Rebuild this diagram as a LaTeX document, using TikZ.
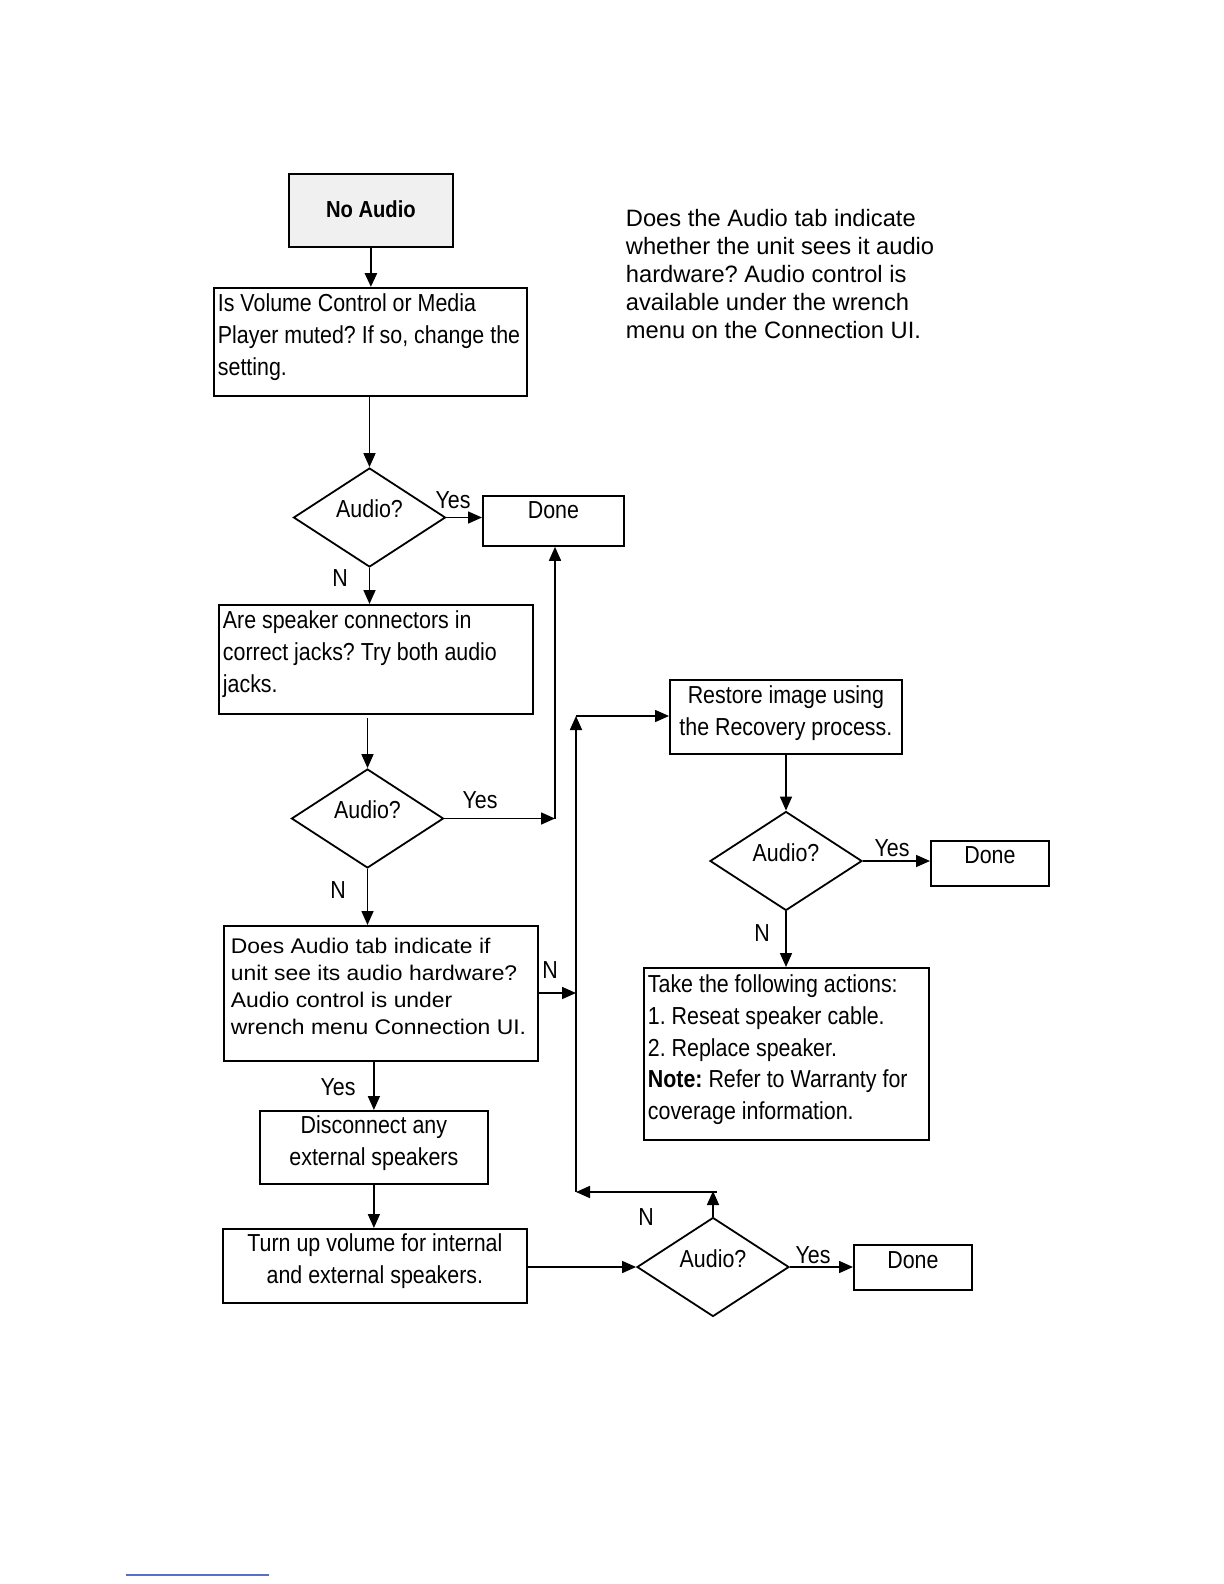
\documentclass[tikz,border=0pt]{standalone}
\usepackage{fontspec}
\setmainfont{Liberation Sans}
\newfontfamily\nfont[FakeStretch=0.87]{Liberation Sans}
\newfontfamily\wfont[FakeStretch=1.08]{Liberation Sans}
\usetikzlibrary{arrows.meta,shapes.geometric}
\definecolor{footblue}{RGB}{90,110,200}
\frenchspacing
\newcommand\nsz{\nfont\fontsize{12.3}{15.8}\selectfont\frenchspacing}
\newcommand\bxl[4]{\parbox[c][#2][t]{#1}{\raggedright\rule{0pt}{#3}#4}}
\newcommand\bxc[4]{\parbox[c][#2][t]{#1}{\centering\rule{0pt}{#3}#4}}
\tikzset{
  box/.style={draw, line width=0.9pt, inner ysep=0pt, inner xsep=0pt, anchor=north west, font=\nsz},
  dia/.style={draw, diamond, aspect=1.53, line width=0.9pt, inner sep=0pt,
     minimum width=76pt, minimum height=49.5pt, font=\nsz},
  arr/.style={line width=0.8pt, -{Triangle[length=7pt,width=6pt]}},
  lbl/.style={font=\nsz, inner sep=0pt}
}
\begin{document}
\begin{tikzpicture}[x=0.5pt,y=-0.5pt]
\useasboundingbox (0,0) rectangle (1224,1584);

% top box
\node[box, fill=gray!12] (na) at (288,173)
  {\bxc{82pt}{36.5pt}{22pt}{\fontsize{11.6}{13}\selectfont\bfseries No Audio}};

\node[box, inner xsep=2pt] (b1) at (213,287)
  {\bxl{152.5pt}{54pt}{12pt}{\mbox{Is Volume Control or Media}\\\mbox{Player muted? If so, change the}\\\mbox{setting.}}};

\node[dia] (d1) at (369.5,517.5) {\smash{Audio?}};
\node[box] (done1) at (482,495) {\bxc{70.5pt}{25pt}{11.5pt}{Done}};

\node[box, inner xsep=2pt] (b2) at (218,604)
  {\bxl{153pt}{54.5pt}{12pt}{\mbox{Are speaker connectors in}\\\mbox{correct jacks? Try both audio}\\\mbox{jacks.}}};

\node[dia] (d2) at (367.5,818.5) {\smash{Audio?}};

\node[box, inner xsep=3.5pt] (b3) at (223,925)
  {\bxl{150pt}{67.5pt}{14pt}{\wfont\fontsize{10.6}{13.5}\selectfont\mbox{Does Audio tab indicate if}\\\mbox{unit see its audio hardware?}\\\mbox{Audio control is under}\\\mbox{wrench menu Connection UI.}}};

\node[box] (b4) at (259,1110)
  {\bxc{114pt}{36.5pt}{11.5pt}{\fontsize{12.3}{16}\selectfont Disconnect any\\external speakers}};

\node[box] (b5) at (222,1228)
  {\bxc{152pt}{37pt}{11.5pt}{\fontsize{12.3}{16}\selectfont Turn up volume for internal\\and external speakers.}};

\node[dia] (d3) at (713,1267) {\smash{Audio?}};
\node[box] (done3) at (853,1244) {\bxc{59pt}{22.5pt}{12pt}{Done}};

\node[box] (rs) at (669,679)
  {\bxc{116pt}{37pt}{12pt}{\fontsize{12.3}{16}\selectfont Restore image using\\the Recovery process.}};

\node[dia] (d4) at (786,861) {\smash{Audio?}};
\node[box] (done4) at (930,840) {\bxc{59pt}{22.5pt}{11.5pt}{Done}};

\node[box, inner xsep=2pt] (b6) at (643,967)
  {\bxl{138.5pt}{86pt}{12.5pt}{\mbox{Take the following actions:}\\\mbox{1. Reseat speaker cable.}\\\mbox{2. Replace speaker.}\\\mbox{\textbf{Note:} Refer to Warranty for}\\\mbox{coverage information.}}};

% note text
\node[anchor=base west, inner sep=0pt] (note) at (625.5,226)
  {\parbox[t]{180pt}{\fontsize{11.85}{14.1}\selectfont Does the Audio tab indicate\\whether the unit sees it audio\\hardware? Audio control is\\available under the wrench\\menu on the Connection UI.}};

% coordinates for loop
\coordinate (j1) at (555,818.5);
\coordinate (c1) at (713,1191);
\coordinate (c2) at (576,1192);
\coordinate (c3) at (576,716);
\coordinate (j2) at (576,993);

% connectors
\draw[arr, line width=1.4pt] (na.south) -- (na.south |- b1.north);
\draw[arr] (d1.north |- b1.south) -- (d1.north);
\draw[arr] (d1.east) -- (d1.east -| done1.west);
\draw[arr] (d1.south) -- (d1.south |- b2.north);
\draw[arr] ([yshift=-1.5pt]d2.north |- b2.south) -- (d2.north);
\draw[arr] (d2.east) -- (j1);
\draw[arr] (j1) -- (j1 |- done1.south);
\draw[arr] (d2.south) -- (d2.south |- b3.north);
\draw[arr] (b3.east |- j2) -- (j2);
\draw[arr] (b4.north |- b3.south) -- (b4.north);
\draw[arr] (b4.south) -- (b4.south |- b5.north);
\draw[arr] (b5.east |- d3.west) -- (d3.west);
\draw[arr] (d3.east) -- (d3.east -| done3.west);
\draw[arr] (d3.north) -- (c1);
\draw[arr] ([xshift=2pt]c1 |- c2) -- (c2);
\draw[arr] (c2) -- (c3);
\draw[arr] (c3) -- (c3 -| rs.west);
\draw[arr] (rs.south -| d4.north) -- (d4.north);
\draw[arr] (d4.east) -- (d4.east -| done4.west);
\draw[arr] (d4.south) -- (d4.south |- b6.north);

% labels
\node[lbl] (y1) at (453,500) {Yes};
\node[lbl] (n1) at (340,578) {N};
\node[lbl] (y2) at (480,800) {Yes};
\node[lbl] (n2) at (338,890) {N};
\node[lbl] (n3) at (550,970) {N};
\node[lbl] (y3) at (338,1087) {Yes};
\node[lbl] (n4) at (646,1217) {N};
\node[lbl] (y4) at (813,1255) {Yes};
\node[lbl] (y5) at (892,848) {Yes};
\node[lbl] (n5) at (762,933) {N};

% footnote rule
\coordinate (f1) at (126,1575);
\coordinate (f2) at (269,1575);
\draw[footblue, line width=0.6pt] (f1) -- (f2);
\end{tikzpicture}
\end{document}
